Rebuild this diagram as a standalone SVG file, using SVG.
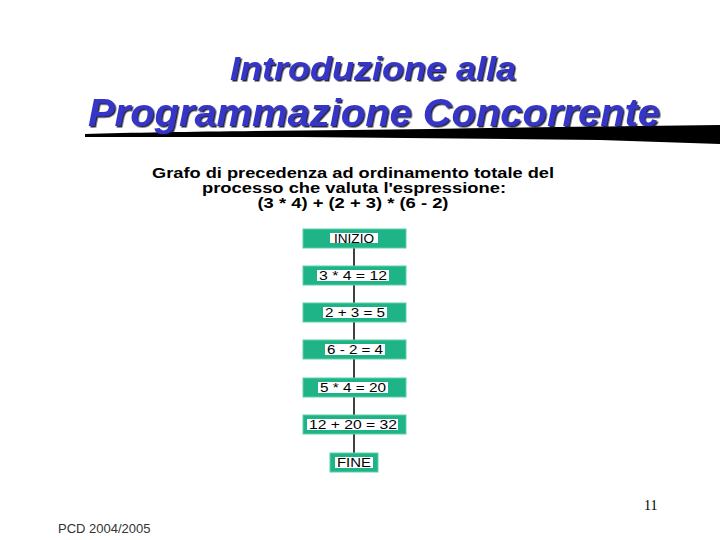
<svg xmlns="http://www.w3.org/2000/svg" width="720" height="540" viewBox="0 0 720 540">
<defs>
<filter id="sh" x="-5%" y="-20%" width="110%" height="140%">
<feDropShadow dx="1.5" dy="1.5" stdDeviation="0.6" flood-color="#10102a" flood-opacity="0.9"/>
</filter>
</defs>
<style>
.title{font-family:"Liberation Sans",Arial,sans-serif;font-weight:bold;font-style:italic;fill:#3636c8;filter:url(#sh)}
.sub{font-family:"Liberation Sans",Arial,sans-serif;font-weight:bold;font-size:14px;fill:#000;text-anchor:middle}
.box{fill:#1fb488;stroke:#5fcfa8;stroke-width:1}
.lbl{fill:#fff}
.t{font-family:"Liberation Sans",Arial,sans-serif;font-size:12.5px;fill:#000;text-anchor:middle}
.conn{stroke:#000;stroke-width:1.5;fill:none}
</style>
<rect width="720" height="540" fill="#fff"/>
<g id="title">
<path d="M85,134 C150,132 250,131 350,130 C450,129 550,127 640,126 L720,125 L720,144 C680,143 640,141 600,140 C500,139 400,138 300,137 C200,137 140,137 85,137 Z" fill="#000"/>
<text class="title" x="230" y="80" font-size="33" textLength="286" lengthAdjust="spacingAndGlyphs">Introduzione alla</text>
<text class="title" x="88" y="126" font-size="39" textLength="572" lengthAdjust="spacingAndGlyphs">Programmazione Concorrente</text>
</g>
<g id="subtitle">
<text class="sub" x="353" y="178" textLength="402" lengthAdjust="spacingAndGlyphs">Grafo di precedenza ad ordinamento totale del</text>
<text class="sub" x="354" y="193" textLength="304" lengthAdjust="spacingAndGlyphs">processo che valuta l'espressione:</text>
<text class="sub" x="353" y="208" textLength="191" lengthAdjust="spacingAndGlyphs">(3 * 4) + (2 + 3) * (6 - 2)</text>
</g>
<g id="connectors">
<line class="conn" x1="354" y1="248" x2="354" y2="266"/>
<line class="conn" x1="354" y1="285" x2="354" y2="303"/>
<line class="conn" x1="354" y1="322" x2="354" y2="340"/>
<line class="conn" x1="354" y1="359" x2="354" y2="378"/>
<line class="conn" x1="354" y1="397" x2="354" y2="415"/>
<line class="conn" x1="354" y1="434" x2="354" y2="453"/>
</g>
<g id="n_inizio">
<rect class="box" x="303" y="229" width="103" height="19"/>
<rect class="lbl" x="330" y="233" width="48" height="10"/>
<text class="t" x="354" y="243" textLength="40" lengthAdjust="spacingAndGlyphs">INIZIO</text>
</g>
<g id="n_1">
<rect class="box" x="303" y="266" width="103" height="19"/>
<rect class="lbl" x="317" y="270" width="72" height="11"/>
<text class="t" x="353" y="280" textLength="68" lengthAdjust="spacingAndGlyphs">3 * 4 = 12</text>
</g>
<g id="n_2">
<rect class="box" x="303" y="303" width="103" height="19"/>
<rect class="lbl" x="323" y="307" width="64" height="11"/>
<text class="t" x="355" y="317" textLength="60" lengthAdjust="spacingAndGlyphs">2 + 3 = 5</text>
</g>
<g id="n_3">
<rect class="box" x="303" y="340" width="103" height="19"/>
<rect class="lbl" x="325" y="344" width="60" height="11"/>
<text class="t" x="355" y="354" textLength="56" lengthAdjust="spacingAndGlyphs">6 - 2 = 4</text>
</g>
<g id="n_4">
<rect class="box" x="303" y="378" width="103" height="19"/>
<rect class="lbl" x="318" y="382" width="70" height="11"/>
<text class="t" x="353" y="392" textLength="66" lengthAdjust="spacingAndGlyphs">5 * 4 = 20</text>
</g>
<g id="n_5">
<rect class="box" x="303" y="415" width="103" height="19"/>
<rect class="lbl" x="307" y="419" width="91" height="11"/>
<text class="t" x="353" y="429" textLength="88" lengthAdjust="spacingAndGlyphs">12 + 20 = 32</text>
</g>
<g id="n_fine">
<rect class="box" x="330" y="453" width="48" height="19"/>
<rect class="lbl" x="335" y="457" width="38" height="11"/>
<text class="t" x="354" y="467" textLength="34" lengthAdjust="spacingAndGlyphs">FINE</text>
</g>
<g id="footer">
<text x="58" y="533" font-family="'Liberation Sans',Arial,sans-serif" font-size="13" fill="#333">PCD 2004/2005</text>
<text x="644" y="510" font-family="'Liberation Serif','Times New Roman',serif" font-size="14" fill="#000">11</text>
</g>
</svg>
